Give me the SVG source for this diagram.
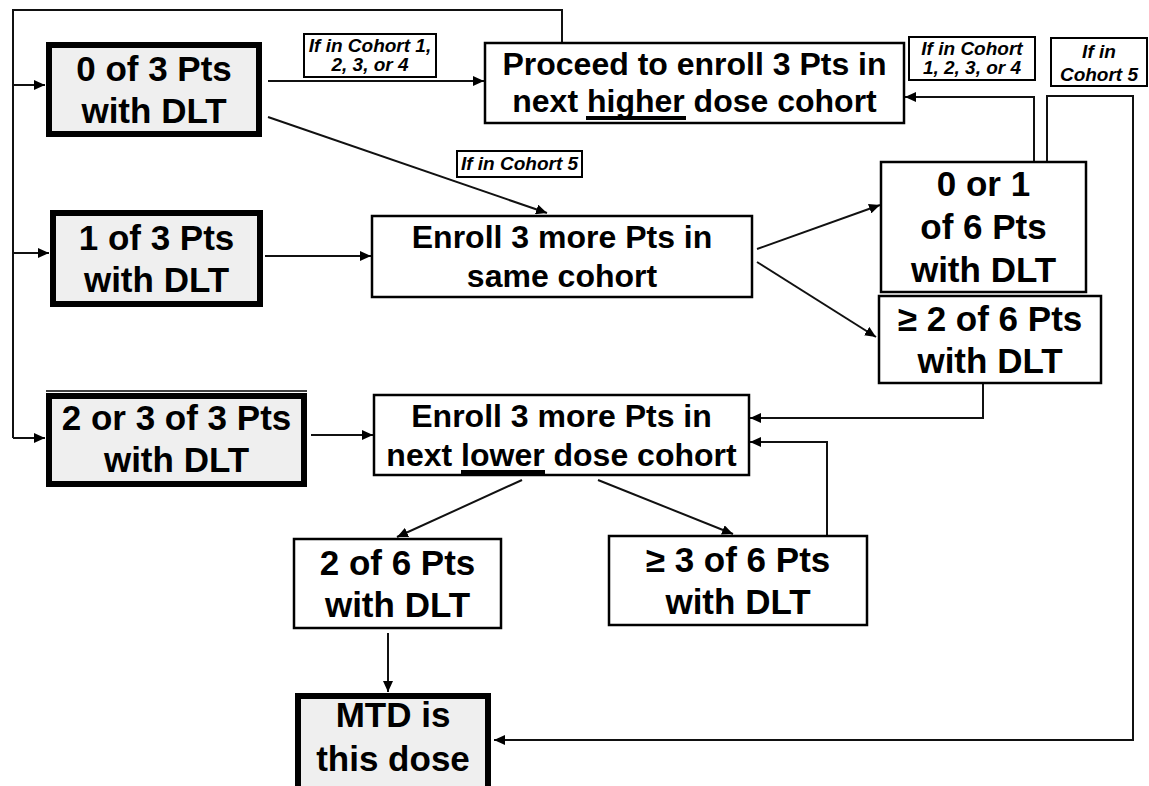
<svg xmlns="http://www.w3.org/2000/svg" width="1149" height="786" viewBox="0 0 1149 786">
<style>
.t{font-family:"Liberation Sans",Arial,Helvetica,sans-serif;font-weight:bold;fill:#000;text-anchor:middle}
.big{font-size:35px}
.mid{font-size:32px}
.lab{font-family:"Liberation Sans",Arial,Helvetica,sans-serif;font-weight:bold;font-style:italic;font-size:19px;text-anchor:middle;fill:#000}
.thick{fill:#efefef;stroke:#000;stroke-width:6}
.box{fill:#fff;stroke:#000;stroke-width:2.5}
.lbox{fill:#fff;stroke:#000;stroke-width:2}
.c{fill:none;stroke:#111;stroke-width:2}
.ul{stroke:#000;stroke-width:4}
</style>
<defs>
<marker id="ah" markerUnits="userSpaceOnUse" markerWidth="12" markerHeight="10" refX="11" refY="5" orient="auto">
<path d="M0,0 L11,5 L0,10 Z" fill="#000"/>
</marker>
</defs>
<rect x="0" y="0" width="1149" height="786" fill="#fff"/>

<g id="connectors">
<path class="c" d="M562,43 L562,10 L13,10 L13,438"/>
<path class="c" d="M13,85 L45,85" marker-end="url(#ah)"/>
<path class="c" d="M13,253 L49,253" marker-end="url(#ah)"/>
<path class="c" d="M13,438 L45,438" marker-end="url(#ah)"/>
<path class="c" d="M268,81 L484,81" marker-end="url(#ah)"/>
<path class="c" d="M268,117 L547,213" marker-end="url(#ah)"/>
<path class="c" d="M265,256 L371,256" marker-end="url(#ah)"/>
<path class="c" d="M311,435 L373,435" marker-end="url(#ah)"/>
<path class="c" d="M757,249 L880,205" marker-end="url(#ah)"/>
<path class="c" d="M757,262 L876,337" marker-end="url(#ah)"/>
<path class="c" d="M1034,162 L1034,97 L905,97" marker-end="url(#ah)"/>
<path class="c" d="M1047,162 L1047,96 L1133,96 L1133,740 L494,740" marker-end="url(#ah)"/>
<path class="c" d="M983,383 L983,418 L750,418" marker-end="url(#ah)"/>
<path class="c" d="M827,536 L827,442 L750,442" marker-end="url(#ah)"/>
<path class="c" d="M522,480 L397,537" marker-end="url(#ah)"/>
<path class="c" d="M598,480 L733,534" marker-end="url(#ah)"/>
<path class="c" d="M388,633 L388,692" marker-end="url(#ah)"/>
</g>

<g id="label-c14-left">
<rect class="lbox" x="304" y="34" width="132" height="43"/>
<text class="lab" x="370" y="52">If in Cohort 1,</text>
<text class="lab" x="370" y="71">2, 3, or 4</text>
</g>
<g id="label-c5-mid">
<rect class="lbox" x="457" y="151" width="125" height="26"/>
<text class="lab" x="519.5" y="170">If in Cohort 5</text>
</g>
<g id="label-c14-right">
<rect class="lbox" x="909" y="37" width="126" height="43"/>
<text class="lab" x="972" y="55">If in Cohort</text>
<text class="lab" x="972" y="74">1, 2, 3, or 4</text>
</g>
<g id="label-c5-right">
<rect class="lbox" x="1051" y="38" width="96" height="48"/>
<text class="lab" x="1099" y="58">If in</text>
<text class="lab" x="1099" y="81">Cohort 5</text>
</g>

<g id="n-0of3">
<rect class="thick" x="49" y="45" width="210" height="89"/>
<text class="t big" x="154" y="81">0 of 3 Pts</text>
<text class="t big" x="154" y="123">with DLT</text>
</g>
<g id="n-1of3">
<rect class="thick" x="53" y="213" width="207" height="91"/>
<text class="t big" x="156.5" y="250">1 of 3 Pts</text>
<text class="t big" x="156.5" y="292">with DLT</text>
</g>
<g id="n-2or3of3">
<line x1="46" y1="391" x2="307" y2="391" stroke="#000" stroke-width="1.5"/>
<rect class="thick" x="49" y="396" width="255" height="88"/>
<text class="t big" x="176.5" y="430">2 or 3 of 3 Pts</text>
<text class="t big" x="176.5" y="472">with DLT</text>
</g>
<g id="n-proceed">
<rect class="box" x="485" y="43" width="419" height="80"/>
<text class="t mid" x="694.5" y="75">Proceed to enroll 3 Pts in</text>
<text class="t mid" x="694.5" y="112">next higher dose cohort</text>
<line class="ul" x1="586" y1="118" x2="686" y2="118"/>
</g>
<g id="n-enroll-same">
<rect class="box" x="372" y="216" width="380" height="81"/>
<text class="t mid" x="562" y="248">Enroll 3 more Pts in</text>
<text class="t mid" x="562" y="287">same cohort</text>
</g>
<g id="n-enroll-lower">
<rect class="box" x="374" y="395" width="375" height="80"/>
<text class="t mid" x="561.5" y="427">Enroll 3 more Pts in</text>
<text class="t mid" x="561.5" y="466">next lower dose cohort</text>
<line class="ul" x1="461" y1="472" x2="545" y2="472"/>
</g>
<g id="n-0or1of6">
<rect class="box" x="881" y="162" width="205" height="130"/>
<text class="t big" x="983.5" y="196">0 or 1</text>
<text class="t big" x="983.5" y="239">of 6 Pts</text>
<text class="t big" x="983.5" y="282">with DLT</text>
</g>
<g id="n-ge2of6">
<rect class="box" x="879" y="296" width="222" height="87"/>
<text class="t big" x="990" y="331">≥ 2 of 6 Pts</text>
<text class="t big" x="990" y="373">with DLT</text>
</g>
<g id="n-2of6">
<rect class="box" x="294" y="539" width="207" height="89"/>
<text class="t big" x="397.5" y="575">2 of 6 Pts</text>
<text class="t big" x="397.5" y="617">with DLT</text>
</g>
<g id="n-ge3of6">
<rect class="box" x="609" y="536" width="258" height="89"/>
<text class="t big" x="738" y="572">≥ 3 of 6 Pts</text>
<text class="t big" x="738" y="614">with DLT</text>
</g>
<g id="n-mtd">
<rect class="thick" x="298" y="696" width="190" height="100"/>
<text class="t big" x="393" y="727">MTD is</text>
<text class="t big" x="393" y="771">this dose</text>
</g>
</svg>
